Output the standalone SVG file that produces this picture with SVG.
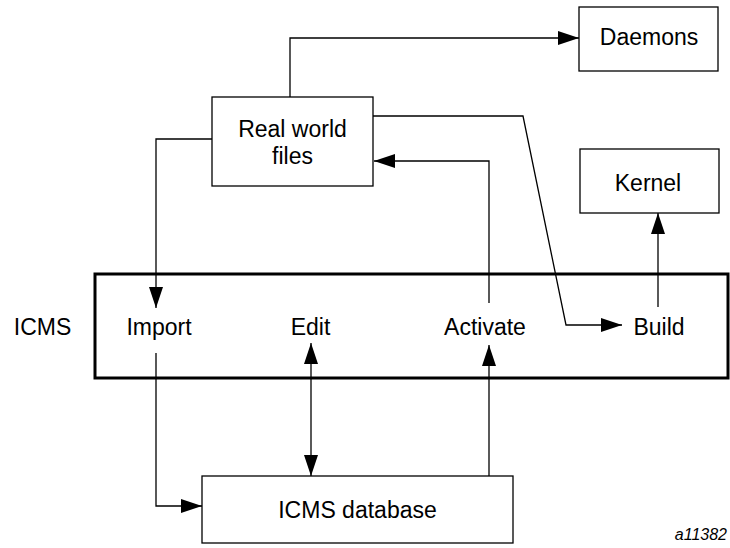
<svg xmlns="http://www.w3.org/2000/svg" width="730" height="548" viewBox="0 0 730 548">
  <style>
    .box { fill: #ffffff; stroke: #000000; stroke-width: 1.3; }
    .frame { fill: none; stroke: #000000; stroke-width: 3; }
    .lbl { font-family: "Liberation Sans", Arial, sans-serif; font-size: 23px; fill: #000000; text-anchor: middle; }
    .conn { fill: none; stroke: #000000; stroke-width: 1.3; }
    .tag { font-family: "Liberation Sans", Arial, sans-serif; font-size: 16px; font-style: italic; fill: #000000; text-anchor: end; }
  </style>
  <defs>
    <marker id="arr" markerUnits="userSpaceOnUse" markerWidth="22" markerHeight="14" refX="21" refY="7" orient="auto-start-reverse" viewBox="0 0 22 14">
      <path d="M0,0 L21,7 L0,14 z" fill="#000000"/>
    </marker>
  </defs>

  <g id="icms">
    <rect class="frame" x="95" y="274" width="633" height="104"/>
    <text class="lbl" x="42.5" y="335">ICMS</text>
  </g>
  <g id="import"><text class="lbl" x="159" y="335">Import</text></g>
  <g id="edit"><text class="lbl" x="310.5" y="335">Edit</text></g>
  <g id="activate"><text class="lbl" x="485" y="335">Activate</text></g>
  <g id="build"><text class="lbl" x="659" y="335">Build</text></g>

  <g id="daemons">
    <rect class="box" x="579" y="7" width="139" height="64"/>
    <text class="lbl" x="649" y="45">Daemons</text>
  </g>
  <g id="realworld">
    <rect class="box" x="212" y="97" width="161" height="89"/>
    <text class="lbl" x="292.5" y="137">Real world</text>
    <text class="lbl" x="292.5" y="164">files</text>
  </g>
  <g id="kernel">
    <rect class="box" x="580" y="149" width="139" height="64"/>
    <text class="lbl" x="648" y="191">Kernel</text>
  </g>
  <g id="database">
    <rect class="box" x="202" y="476" width="311" height="67"/>
    <text class="lbl" x="357.5" y="518">ICMS database</text>
  </g>

  <g id="connectors">
    <path class="conn" d="M290,97 V38 H579" marker-end="url(#arr)"/>
    <path class="conn" d="M373,116 H523 L566,325 H622" marker-end="url(#arr)"/>
    <path class="conn" d="M489,303 V161 H374" marker-end="url(#arr)"/>
    <path class="conn" d="M212,139 H156 V308" marker-end="url(#arr)"/>
    <path class="conn" d="M156,353 V506 H202" marker-end="url(#arr)"/>
    <path class="conn" d="M311,343 V476" marker-start="url(#arr)" marker-end="url(#arr)"/>
    <path class="conn" d="M489,476 V345" marker-end="url(#arr)"/>
    <path class="conn" d="M658,307 V213" marker-end="url(#arr)"/>
  </g>

  <text class="tag" x="727" y="540">a11382</text>
</svg>
